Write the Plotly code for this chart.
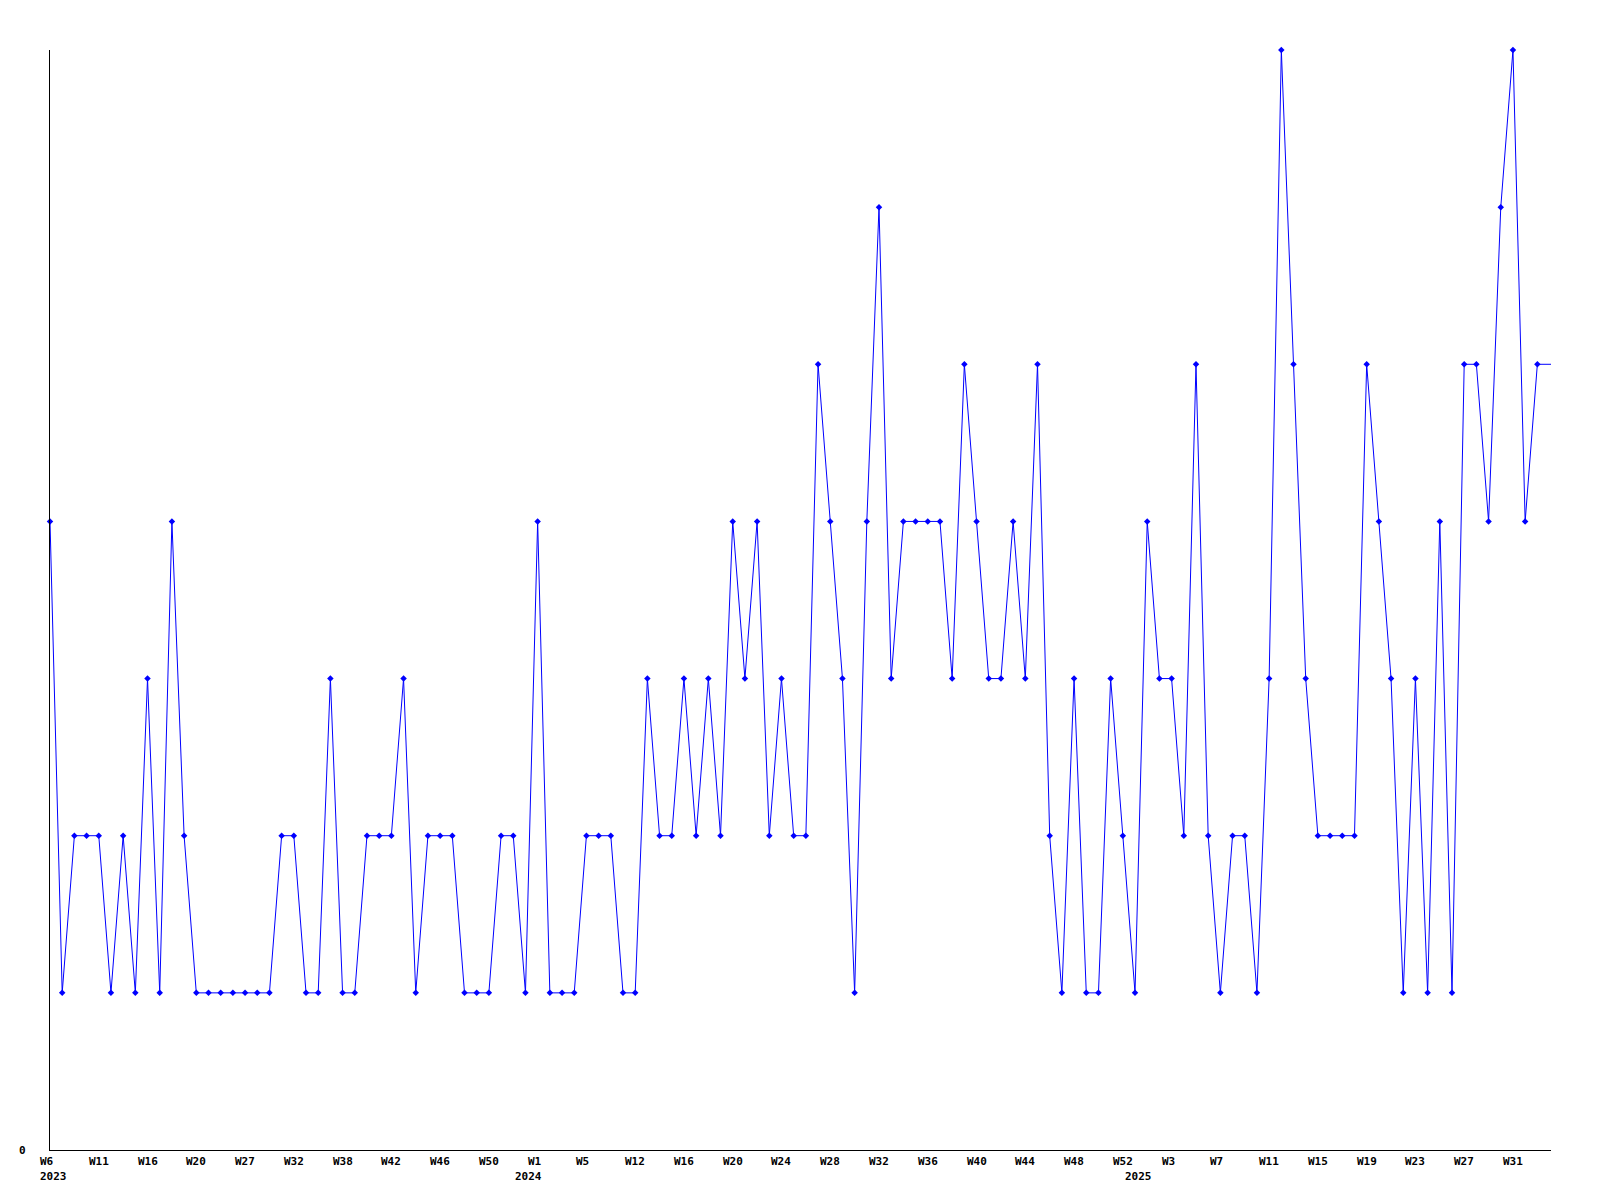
import plotly.graph_objects as go

# Weekly values (one per plotted week, left to right)
values = [
    4, 1, 2, 2, 2, 1, 2, 1, 3, 1,
    4, 2, 1, 1, 1, 1, 1, 1, 1, 2,
    2, 1, 1, 3, 1, 1, 2, 2, 2, 3,
    1, 2, 2, 2, 1, 1, 1, 2, 2, 1,
    4, 1, 1, 1, 2, 2, 2, 1, 1, 3,
    2, 2, 3, 2, 3, 2, 4, 3, 4, 2,
    3, 2, 2, 5, 4, 3, 1, 4, 6, 3,
    4, 4, 4, 4, 3, 5, 4, 3, 3, 4,
    3, 5, 2, 1, 3, 1, 1, 3, 2, 1,
    4, 3, 3, 2, 5, 2, 1, 2, 2, 1,
    3, 7, 5, 3, 2, 2, 2, 2, 5, 4,
    3, 1, 3, 1, 4, 1, 5, 5, 4, 6,
    7, 4, 5,
]

# Week tick labels, shown on every 4th point
tick_labels = [
    "W6", "W11", "W16", "W20", "W27", "W32", "W38", "W42", "W46", "W50",
    "W1", "W5", "W12", "W16", "W20", "W24", "W28", "W32", "W36", "W40",
    "W44", "W48", "W52", "W3", "W7", "W11", "W15", "W19", "W23", "W27", "W31",
]
tick_step = 4

# Year labels and the point index they sit under
year_labels = ["2023", "2024", "2025"]
year_points = [0, 39, 89]

x = list(range(len(values)))
x_end = 123.12  # right edge of the plotting area, in point units

FONT = dict(family="DejaVu Sans Mono", size=11, color="#000000")

fig = go.Figure()
fig.add_trace(go.Scatter(
    x=x, y=values, mode="lines+markers",
    line=dict(color="#0000ff", width=1),
    marker=dict(symbol="diamond", size=5, color="#0000ff", line=dict(width=0)),
    cliponaxis=False, showlegend=False, hoverinfo="x+y",
))
# the line continues flat at the last value to the right edge
fig.add_trace(go.Scatter(
    x=[x[-1], x_end], y=[values[-1], values[-1]], mode="lines",
    line=dict(color="#0000ff", width=1), cliponaxis=False,
    showlegend=False, hoverinfo="skip",
))

annotations = []
for i, lab in enumerate(tick_labels):
    annotations.append(dict(
        x=i * tick_step, y=0, xref="x", yref="y", text="<b>%s</b>" % lab,
        showarrow=False, xanchor="left", yanchor="top", xshift=-11, yshift=-4,
        font=FONT, borderpad=0,
    ))
for p, lab in zip(year_points, year_labels):
    annotations.append(dict(
        x=p, y=0, xref="x", yref="y", text="<b>%s</b>" % lab,
        showarrow=False, xanchor="left", yanchor="top", xshift=-11, yshift=-19,
        font=FONT, borderpad=0,
    ))
annotations.append(dict(
    x=0, y=0, xref="paper", yref="y", text="<b>0</b>", showarrow=False,
    xanchor="right", yanchor="middle", xshift=-23, yshift=0, font=FONT, borderpad=0,
))

# page body has an 8px margin: figure is 1584x1184 so the whole page is 1600x1200
fig.update_layout(
    width=1584, height=1184,
    margin=dict(l=42, r=41, t=42, b=42, pad=0),
    paper_bgcolor="#ffffff", plot_bgcolor="#ffffff",
    font=FONT,
    annotations=annotations,
    xaxis=dict(range=[0, x_end], showgrid=False, zeroline=False, showticklabels=False,
               ticks="", showline=True, linecolor="#000000", linewidth=1, fixedrange=True),
    yaxis=dict(range=[0, 7], showgrid=False, zeroline=False, showticklabels=False,
               ticks="", showline=True, linecolor="#000000", linewidth=1, fixedrange=True),
)

fig.write_html("out.html")
